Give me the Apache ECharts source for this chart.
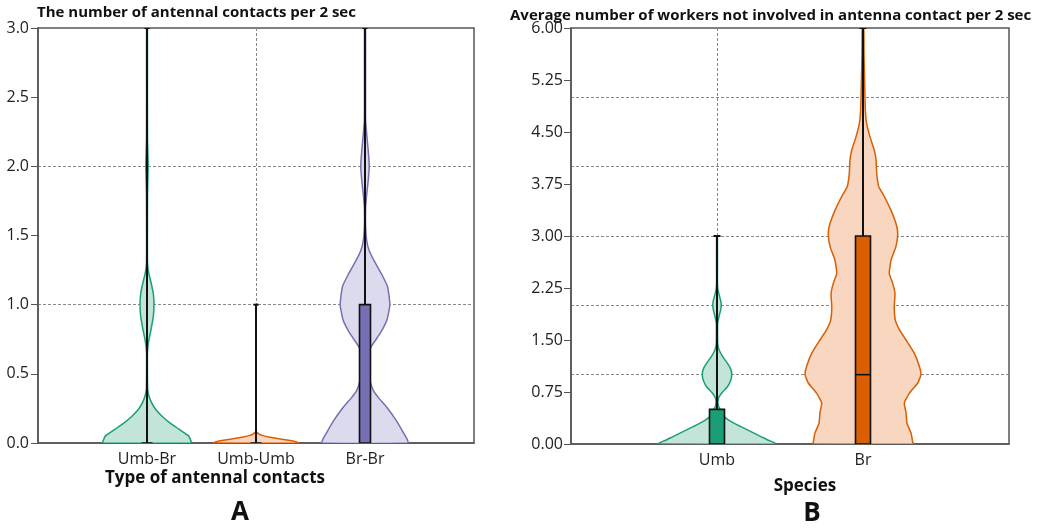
<!DOCTYPE html>
<html>
<head>
<meta charset="utf-8">
<script src="https://cdn.jsdelivr.net/npm/echarts@6/dist/echarts.min.js"></script>
<style>html,body{margin:0;padding:0;background:#fff}#c{width:1039px;height:528px}</style>
</head>
<body>
<div id="c"></div>
<script>
// ---------- Panel A data ----------
const catsA = ['Umb-Br', 'Umb-Umb', 'Br-Br'];
const yTicksA = [0, 0.5, 1.0, 1.5, 2.0, 2.5, 3.0];
// violin profiles: value levels and half-widths (x-axis units)
const umbBrLevels = [0, 0.02, 0.05, 0.1, 0.14, 0.19, 0.24, 0.29, 0.34, 0.39, 0.5, 0.65, 0.72, 0.82, 0.915, 1.0, 1.08, 1.16, 1.23, 1.3, 1.45, 1.8, 1.9, 2.0, 2.1, 2.2, 2.5, 3.0];
const umbBrWidths = [0.408, 0.400, 0.384, 0.292, 0.219, 0.143, 0.082, 0.043, 0.018, 0.006, 0.004, 0.004, 0.012, 0.037, 0.058, 0.064, 0.058, 0.037, 0.016, 0.005, 0.004, 0.005, 0.008, 0.011, 0.008, 0.005, 0.004, 0.004];
const umbUmbLevels = [0, 0.01, 0.02, 0.03, 0.043, 0.055, 0.065, 0.072, 0.08];
const umbUmbWidths = [0.393, 0.365, 0.301, 0.210, 0.116, 0.055, 0.027, 0.018, 0.003];
const brBrLevels = [0, 0.03, 0.07, 0.16, 0.26, 0.33, 0.38, 0.45, 0.55, 0.62, 0.69, 0.79, 0.89, 1.0, 1.13, 1.22, 1.32, 1.39, 1.46, 1.56, 1.7, 1.8, 1.9, 2.0, 2.11, 2.23, 2.33, 2.5, 3.0];
const brBrWidths = [0.395, 0.385, 0.356, 0.289, 0.198, 0.121, 0.076, 0.046, 0.032, 0.037, 0.052, 0.137, 0.201, 0.228, 0.207, 0.153, 0.082, 0.039, 0.016, 0.006, 0.006, 0.016, 0.030, 0.039, 0.030, 0.016, 0.006, 0.005, 0.005];
// box statistics
const q1A = [0, 0, 0];
const medA = [null, null, null];
const q3A = [0, 0, 1];
const whiskLoA = [0, 0, 0];
const whiskHiA = [3, 1, 3];

// ---------- Panel B data ----------
const catsB = ['Umb', 'Br'];
const yTicksB = [0, 0.75, 1.5, 2.25, 3.0, 3.75, 4.5, 5.25, 6.0];
const umbLevels = [0, 0.02, 0.05, 0.1, 0.15, 0.2, 0.25, 0.3, 0.35, 0.4, 0.45, 0.5, 0.55, 0.62, 0.68, 0.75, 0.83, 0.92, 1.0, 1.08, 1.16, 1.26, 1.36, 1.45, 1.6, 1.75, 1.85, 1.93, 2.0, 2.07, 2.15, 2.25, 2.35, 3.0];
const umbWidths = [0.404, 0.390, 0.356, 0.308, 0.260, 0.212, 0.164, 0.116, 0.075, 0.048, 0.031, 0.021, 0.010, 0.007, 0.014, 0.038, 0.073, 0.094, 0.101, 0.094, 0.073, 0.039, 0.014, 0.005, 0.004, 0.005, 0.015, 0.025, 0.029, 0.025, 0.015, 0.005, 0.003, 0.003];
const brLevels = [0, 0.03, 0.16, 0.3, 0.45, 0.59, 0.73, 0.88, 1.0, 1.12, 1.31, 1.5, 1.65, 1.79, 1.98, 2.17, 2.32, 2.46, 2.65, 2.85, 3.04, 3.18, 3.37, 3.57, 3.71, 3.9, 4.1, 4.24, 4.43, 4.62, 4.82, 5.15, 5.63, 6.0];
const brWidths = [0.345, 0.340, 0.329, 0.301, 0.295, 0.283, 0.317, 0.375, 0.397, 0.386, 0.351, 0.295, 0.249, 0.221, 0.214, 0.219, 0.203, 0.180, 0.192, 0.226, 0.238, 0.226, 0.192, 0.146, 0.108, 0.094, 0.089, 0.077, 0.048, 0.025, 0.016, 0.012, 0.007, 0.005];
const q1B = [0, 0];
const medB = [null, 1];
const q3B = [0.5, 3];
const whiskLoB = [0, 0];
const whiskHiB = [3, 6];

// ---------- styles ----------
const lineCols = {'Umb-Br': '#1b9e77', 'Umb-Umb': '#d95f02', 'Br-Br': '#7570b3', 'Umb': '#1b9e77', 'Br': '#d95f02'};
const fillCols = {'Umb-Br': '#c3e5d9', 'Umb-Umb': '#f8d6bf', 'Br-Br': '#dcdbee', 'Umb': '#c3e5d9', 'Br': '#f8d6bf'};
const boxCols = {'Umb-Br': '#1b9e77', 'Umb-Umb': '#d95f02', 'Br-Br': '#7570b3', 'Umb': '#1b9e77', 'Br': '#d95f02'};
const FONT = 'Open Sans';

const profA = [[umbBrLevels, umbBrWidths], [umbUmbLevels, umbUmbWidths], [brBrLevels, brBrWidths]];
const profB = [[umbLevels, umbWidths], [brLevels, brWidths]];

function makeRender(cats, prof, q1, med, q3, lo, hi, boxW, capW) {
  return function (params, api) {
    const i = params.dataIndex;
    const x = api.value(0);
    const lv = prof[i][0], wd = prof[i][1];
    const left = lv.map((y, k) => api.coord([x - wd[k], y]));
    const right = lv.map((y, k) => api.coord([x + wd[k], y])).reverse();
    const name = cats[i];
    const children = [];
    children.push({
      type: 'polygon',
      shape: {points: left.concat(right), smooth: 0.15},
      style: {fill: fillCols[name], stroke: lineCols[name], lineWidth: 1.5}
    });
    const pLo = api.coord([x, lo[i]]), pHi = api.coord([x, hi[i]]);
    children.push({type: 'line', shape: {x1: pLo[0], y1: pLo[1], x2: pHi[0], y2: pHi[1]}, style: {stroke: '#111', lineWidth: 2}});
    children.push({type: 'line', shape: {x1: pHi[0] - capW / 2, y1: pHi[1], x2: pHi[0] + capW / 2, y2: pHi[1]}, style: {stroke: '#111', lineWidth: 2}});
    const b1 = api.coord([x, q1[i]]), b3 = api.coord([x, q3[i]]);
    children.push({type: 'rect', shape: {x: b1[0] - boxW / 2, y: b3[1], width: boxW, height: b1[1] - b3[1]},
      style: {fill: boxCols[name], stroke: '#111', lineWidth: 1.6}});
    if (med[i] != null) {
      const m = api.coord([x, med[i]]);
      children.push({type: 'line', shape: {x1: m[0] - boxW / 2, y1: m[1], x2: m[0] + boxW / 2, y2: m[1]}, style: {stroke: '#111', lineWidth: 1.6}});
    }
    return {type: 'group', children};
  };
}

const axisLineStyle = {color: '#555', width: 1.5};
const gridLine = {show: true, showMinLine: false, showMaxLine: false, lineStyle: {color: '#888', width: 1, type: [3, 2]}};
const labelStyle = {fontFamily: FONT, fontSize: 16, color: '#222'};

const chart = echarts.init(document.getElementById('c'), null, {renderer: 'canvas'});
chart.setOption({
  animation: false,
  backgroundColor: '#fff',
  grid: [
    {left: 38, right: 1039 - 474, top: 28, bottom: 528 - 443, show: true, borderColor: '#555', borderWidth: 1.5, backgroundColor: 'transparent'},
    {left: 571, right: 1039 - 1009, top: 28, bottom: 528 - 444, show: true, borderColor: '#555', borderWidth: 1.5, backgroundColor: 'transparent'}
  ],
  xAxis: [
    {gridIndex: 0, type: 'value', min: 0, max: catsA.length + 1, interval: 1,
      axisLine: {lineStyle: axisLineStyle}, axisTick: {show: false},
      axisLabel: Object.assign({margin: 8, formatter: v => catsA[v - 1] || ''}, labelStyle),
      splitLine: gridLine},
    {gridIndex: 1, type: 'value', min: 0, max: catsB.length + 1, interval: 1,
      axisLine: {lineStyle: axisLineStyle}, axisTick: {show: false},
      axisLabel: Object.assign({margin: 8, formatter: v => catsB[v - 1] || ''}, labelStyle),
      splitLine: gridLine}
  ],
  yAxis: [
    {gridIndex: 0, type: 'value', min: yTicksA[0], max: yTicksA[yTicksA.length - 1], interval: yTicksA[1] - yTicksA[0],
      axisLine: {show: true, lineStyle: axisLineStyle}, axisTick: {show: true, length: 7, lineStyle: {color: '#555'}},
      axisLabel: Object.assign({margin: 9, formatter: v => v.toFixed(1)}, labelStyle), splitLine: {show: false}},
    {gridIndex: 0, type: 'value', min: 0, max: 3, interval: 1, position: 'left',
      axisLine: {show: false}, axisTick: {show: false}, axisLabel: {show: false}, splitLine: gridLine},
    {gridIndex: 1, type: 'value', min: yTicksB[0], max: yTicksB[yTicksB.length - 1], interval: yTicksB[1] - yTicksB[0],
      axisLine: {show: true, lineStyle: axisLineStyle}, axisTick: {show: true, length: 7, lineStyle: {color: '#555'}},
      axisLabel: Object.assign({margin: 8, formatter: v => v.toFixed(2)}, labelStyle), splitLine: {show: false}},
    {gridIndex: 1, type: 'value', min: 0, max: 6, interval: 1, position: 'left',
      axisLine: {show: false}, axisTick: {show: false}, axisLabel: {show: false}, splitLine: gridLine}
  ],
  series: [
    {type: 'custom', xAxisIndex: 0, yAxisIndex: 0, clip: true,
      data: catsA.map((c, i) => [i + 1]),
      renderItem: makeRender(catsA, profA, q1A, medA, q3A, whiskLoA, whiskHiA, 11, 5)},
    {type: 'custom', xAxisIndex: 1, yAxisIndex: 2, clip: true,
      data: catsB.map((c, i) => [i + 1]),
      renderItem: makeRender(catsB, profB, q1B, medB, q3B, whiskLoB, whiskHiB, 15, 7)}
  ],
  graphic: [
    {type: 'text', x: 37, y: 13, style: {text: 'The number of antennal contacts per 2 sec', font: 'bold 15px "Open Sans"', fill: '#111', align: 'left', verticalAlign: 'middle'}},
    {type: 'text', x: 510, y: 16, style: {text: 'Average number of workers not involved in antenna contact per 2 sec', font: 'bold 15px "Open Sans"', fill: '#111', align: 'left', verticalAlign: 'middle'}},
    {type: 'text', x: 215, y: 478, style: {text: 'Type of antennal contacts', font: 'bold 17px "Open Sans"', fill: '#111', align: 'center', verticalAlign: 'middle'}},
    {type: 'text', x: 805, y: 486, style: {text: 'Species', font: 'bold 17px "Open Sans"', fill: '#111', align: 'center', verticalAlign: 'middle'}},
    {type: 'text', x: 240, y: 513, style: {text: 'A', font: 'bold 26px "Open Sans"', fill: '#111', align: 'center', verticalAlign: 'middle'}},
    {type: 'text', x: 812, y: 514, style: {text: 'B', font: 'bold 26px "Open Sans"', fill: '#111', align: 'center', verticalAlign: 'middle'}}
  ]
});
</script>
</body>
</html>
